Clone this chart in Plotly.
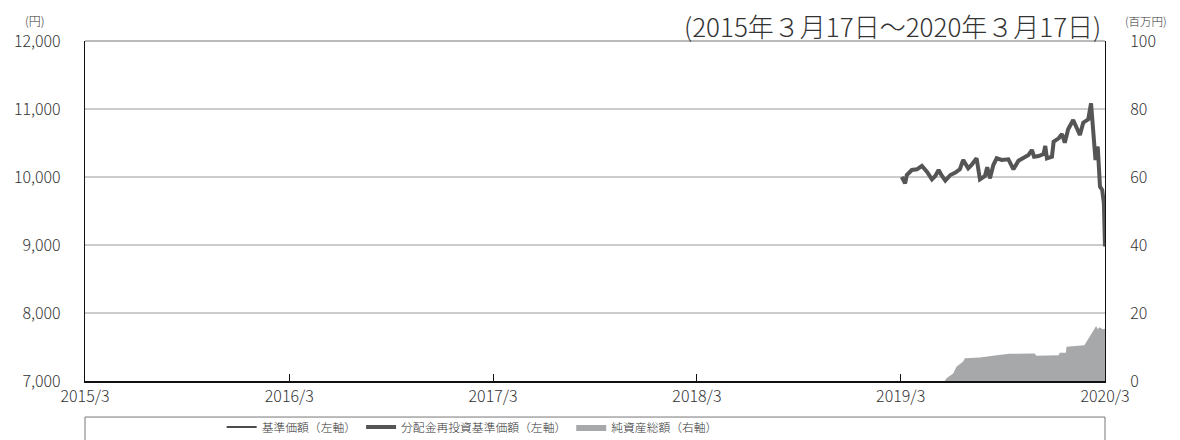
import plotly.graph_objects as go

# 基準価額 / 分配金再投資基準価額 (円)
nav_dates = [
    "2019-03-19", "2019-03-25", "2019-03-28", "2019-04-06", "2019-04-15", "2019-04-24",
    "2019-05-03", "2019-05-12", "2019-05-18", "2019-05-24", "2019-05-30", "2019-06-05",
    "2019-06-14", "2019-06-23", "2019-07-01", "2019-07-07", "2019-07-16", "2019-07-22",
    "2019-07-31", "2019-08-06", "2019-08-15", "2019-08-19", "2019-08-24", "2019-08-30",
    "2019-09-05", "2019-09-14", "2019-09-26", "2019-10-05", "2019-10-14", "2019-10-23",
    "2019-11-01", "2019-11-07", "2019-11-11", "2019-11-19", "2019-11-28", "2019-12-01",
    "2019-12-04", "2019-12-13", "2019-12-16", "2019-12-25", "2019-12-31", "2020-01-05",
    "2020-01-11", "2020-01-20", "2020-01-26", "2020-02-01", "2020-02-07", "2020-02-16",
    "2020-02-21", "2020-02-27", "2020-02-29", "2020-03-04", "2020-03-08", "2020-03-12",
    "2020-03-15", "2020-03-17",
]
nav_values = [
    10000, 9907, 10029, 10103, 10113, 10162,
    10078, 9966, 10015, 10103, 10015, 9946,
    10029, 10064, 10113, 10250, 10128, 10176,
    10275, 9966, 10015, 10142, 9980, 10176,
    10275, 10250, 10260, 10113, 10240, 10275,
    10324, 10397, 10299, 10309, 10338, 10456,
    10275, 10299, 10519, 10569, 10632, 10505,
    10701, 10838, 10730, 10618, 10799, 10848,
    11084, 10470, 10250, 10446, 9858, 9809,
    9613, 8980,
]
reinv_values = list(nav_values)

# 純資産総額 (百万円)
aum_dates = [
    "2019-03-19", "2019-06-04", "2019-06-07", "2019-06-13", "2019-06-19", "2019-06-25",
    "2019-07-07", "2019-07-10", "2019-08-06", "2019-09-05", "2019-09-28", "2019-11-12",
    "2019-11-15", "2019-12-25", "2019-12-27", "2020-01-07", "2020-01-08", "2020-02-09",
    "2020-02-15", "2020-02-24", "2020-03-01", "2020-03-04", "2020-03-07", "2020-03-13",
    "2020-03-17",
]
aum_values = [
    0, 0, 0.8, 1.5, 2.2, 4.2,
    5.7, 6.7, 6.9, 7.6, 8.0, 8.1,
    7.4, 7.6, 8.3, 8.3, 10.1, 10.5,
    12.0, 14.5, 16.2, 15.2, 15.8, 15.2,
    15.4,
]

x_tickvals = ["2015-03-17", "2016-03-17", "2017-03-17", "2018-03-17", "2019-03-17", "2020-03-17"]
x_ticktext = ["2015/3", "2016/3", "2017/3", "2018/3", "2019/3", "2020/3"]
left_ticks = [7000, 8000, 9000, 10000, 11000, 12000]
right_ticks = [0, 20, 40, 60, 80, 100]

FONT = "Noto Sans CJK JP, Noto Sans, sans-serif"
TXT = "#333333"
W = 300

fig = go.Figure()
fig.add_trace(go.Scatter(
    x=nav_dates, y=nav_values, name="基準価額（左軸）", mode="lines",
    line=dict(color="#111111", width=1.5), yaxis="y",
))
fig.add_trace(go.Scatter(
    x=nav_dates, y=reinv_values, name="分配金再投資基準価額（左軸）", mode="lines",
    line=dict(color="#555555", width=4), yaxis="y",
))
fig.add_trace(go.Scatter(
    x=aum_dates, y=aum_values, name="純資産総額（右軸）", mode="lines",
    fill="tozeroy", fillcolor="#a7a8aa", line=dict(color="#a7a8aa", width=0),
    yaxis="y2",
))

fig.update_layout(
    width=1180, height=440,
    margin=dict(l=85, r=75, t=41, b=59, autoexpand=False),
    paper_bgcolor="white", plot_bgcolor="white",
    font=dict(family=FONT, color=TXT, size=16, weight=W),
    showlegend=True,
    legend=dict(
        orientation="h", x=0.134, xanchor="left", y=-0.1353, yanchor="middle",
        font=dict(size=11.8, family=FONT, color=TXT, weight=W),
        bgcolor="rgba(0,0,0,0)", traceorder="normal",
    ),
    xaxis=dict(
        type="date", range=["2015-03-17", "2020-03-17"],
        tickvals=x_tickvals, ticktext=x_ticktext,
        showgrid=False, showline=True, linecolor="#111111", linewidth=1.5,
        ticks="inside", ticklen=7, tickcolor="#111111", tickwidth=1,
        tickfont=dict(size=16, family=FONT, color=TXT, weight=W), zeroline=False,
    ),
    yaxis=dict(
        range=[7000, 12000], tickvals=left_ticks, tickformat=",d",
        showgrid=True, gridcolor="#cccccc", gridwidth=1.5,
        showline=True, linecolor="#111111", linewidth=1.2,
        ticks="", tickfont=dict(size=16, family=FONT, color=TXT, weight=W),
        ticklabelstandoff=20, zeroline=False,
    ),
    yaxis2=dict(
        range=[0, 100], tickvals=right_ticks, overlaying="y", side="right",
        showgrid=False, showline=True, linecolor="#111111", linewidth=1.2,
        ticks="", tickfont=dict(size=16, family=FONT, color=TXT, weight=W),
        ticklabelstandoff=21, zeroline=False,
    ),
    shapes=[
        dict(type="line", xref="paper", yref="paper", x0=0, x1=1, y0=1, y1=1,
             line=dict(color="#777777", width=1.2)),
        dict(type="rect", xref="paper", yref="paper", x0=0, x1=1, y0=-0.106, y1=-0.25,
             line=dict(color="#777777", width=1), fillcolor="rgba(0,0,0,0)"),
    ],
    annotations=[
        dict(text="(2015年３月17日～2020年３月17日)", xref="paper", yref="paper",
             x=0.998, y=1.047, xanchor="right", yanchor="middle", showarrow=False,
             font=dict(size=26, family=FONT, color=TXT, weight=W)),
        dict(text="(円)", xref="paper", yref="paper", x=-0.0490, y=1.061,
             xanchor="center", yanchor="middle", showarrow=False,
             font=dict(size=12, family=FONT, color=TXT, weight=W)),
        dict(text="(百万円)", xref="paper", yref="paper", x=1.040, y=1.058,
             xanchor="center", yanchor="middle", showarrow=False,
             font=dict(size=11.5, family=FONT, color=TXT, weight=W)),
    ],
)

fig.write_html("out.html", config={"displayModeBar": False},
               post_script="document.body.style.margin='0';")
